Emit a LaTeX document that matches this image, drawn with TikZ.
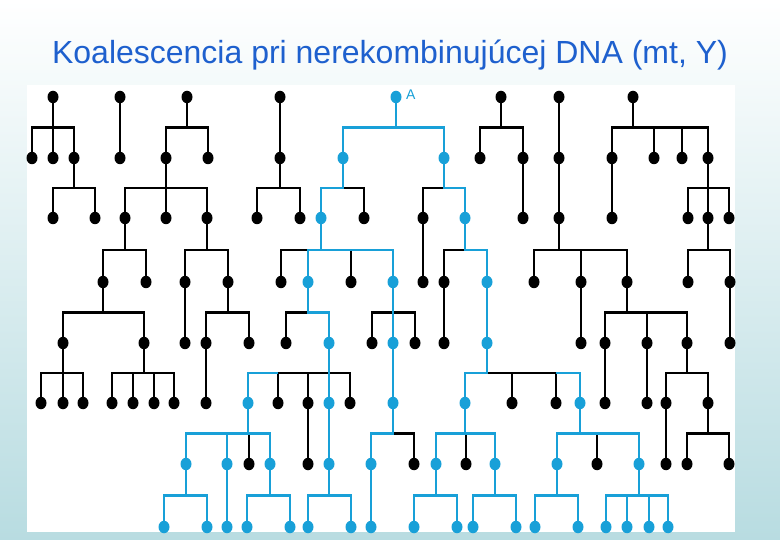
\documentclass[tikz,border=0pt]{standalone}
\usepackage{fontspec}
\setmainfont{Liberation Sans}
\usetikzlibrary{calc,shapes.geometric}
\definecolor{lineage}{RGB}{24,160,216}
\definecolor{titleblue}{RGB}{30,96,206}
\definecolor{slidemid}{RGB}{208,232,235}
\definecolor{slidebg}{RGB}{184,220,225}
\tikzset{
  dotk/.style={ellipse, fill=black, inner sep=0pt,
    minimum width=11pt, minimum height=12.5pt},
  dotb/.style={dotk, fill=lineage},
  edgek/.style={line width=2.4pt},
  edgeb/.style={edgek, draw=lineage},
}
\newcommand{\kids}[3][edgek]{%
  \foreach \k in {#3}
    \draw[#1] (#2.center) |- ($(#2)!.5!(\k)$) -| (\k.center);}

\begin{document}
\begin{tikzpicture}[x=1pt, y=-1pt]
  \useasboundingbox (0,0) rectangle (780,540);
  \shade[top color=white, middle color=slidemid, bottom color=slidebg]
    (0,0) rectangle (780,540);
  \fill[white] (27,85) rectangle (735,532);
  \node[text=titleblue, font=\fontsize{32}{36}\selectfont, anchor=base]
    (title) at (390,64) {Koalescencia pri nerekombinujúcej DNA (mt, Y)};

  % individuals, one row per generation
  \foreach \x in {53,120,187,280,501,559,633}
    \node[dotk] (a\x) at (\x,97) {};
  \node[dotb] (a396) at (396,97) {};
  \node[text=lineage, anchor=west, font=\fontsize{14}{14}\selectfont]
    (lblA) at ([xshift=1pt,yshift=2pt]a396.east) {A};
  \foreach \x in {32,53,74,120,166,208,280,480,523,559,612,654,682,708}
    \node[dotk] (b\x) at (\x,158) {};
  \foreach \x in {343,444}
    \node[dotb] (b\x) at (\x,158) {};
  \foreach \x in {53,95,125,166,207,257,300,364,423,523,559,612,688,708,729}
    \node[dotk] (c\x) at (\x,218) {};
  \foreach \x in {321,465}
    \node[dotb] (c\x) at (\x,218) {};
  \foreach \x in {103,146,185,228,281,351,423,444,534,581,627,688,730}
    \node[dotk] (d\x) at (\x,282) {};
  \foreach \x in {308,393,487}
    \node[dotb] (d\x) at (\x,282) {};
  \foreach \x in {63,144,185,206,249,286,372,415,444,581,605,647,687,730}
    \node[dotk] (e\x) at (\x,343) {};
  \foreach \x in {329,393,487}
    \node[dotb] (e\x) at (\x,343) {};
  \foreach \x in {41,63,83,112,133,154,174,206,278,308,350,512,556,605,647,666,708}
    \node[dotk] (f\x) at (\x,403) {};
  \foreach \x in {248,329,393,465,580}
    \node[dotb] (f\x) at (\x,403) {};
  \foreach \x in {249,308,414,466,597,666,687,729}
    \node[dotk] (g\x) at (\x,464) {};
  \foreach \x in {186,227,270,329,371,436,495,557,639}
    \node[dotb] (g\x) at (\x,464) {};
  \foreach \x in {164,207,227,247,290,308,351,371,414,457,473,516,535,578,606,627,649,668}
    \node[dotb] (h\x) at (\x,527) {};

  % descent
  \kids{a53}{b32,b53,b74}
  \kids{a120}{b120}
  \kids{a187}{b166,b208}
  \kids{a280}{b280}
  \kids{a501}{b480,b523}
  \kids{a559}{b559}
  \kids{a633}{b612,b654,b682,b708}
  \kids{b74}{c53,c95}
  \kids{b166}{c125,c166,c207}
  \kids{b280}{c257,c300}
  \kids{b343}{c364}
  \kids{b444}{c423}
  \kids{b523}{c523}
  \kids{b559}{c559}
  \kids{b612}{c612}
  \kids{b708}{c688,c708,c729}
  \kids{c125}{d103,d146}
  \kids{c207}{d185,d228}
  \kids{c321}{d281,d351}
  \kids{c423}{d423}
  \kids{c465}{d444}
  \kids{c559}{d534,d581,d627}
  \kids{c708}{d688,d730}
  \kids{d103}{e63,e144}
  \kids{d185}{e185}
  \kids{d228}{e206,e249}
  \kids{d308}{e286}
  \kids{d393}{e372,e415}
  \kids{d444}{e444}
  \kids{d581}{e581}
  \kids{d627}{e605,e647,e687}
  \kids{d730}{e730}
  \kids{e63}{f41,f63,f83}
  \kids{e144}{f112,f133,f154,f174}
  \kids{e206}{f206}
  \kids{e329}{f248,f278,f308,f350}
  \kids{e487}{f512,f556,f580}
  \kids{e605}{f605}
  \kids{e647}{f647}
  \kids{e687}{f666,f708}
  \kids{f248}{g249}
  \kids{f308}{g308}
  \kids{f393}{g414}
  \kids{f465}{g466}
  \kids{f580}{g597}
  \kids{f666}{g666}
  \kids{f708}{g687,g729}

  % the line back to A
  \kids[edgeb]{a396}{b343,b444}
  \kids[edgeb]{b343}{c321}
  \kids[edgeb]{b444}{c465}
  \kids[edgeb]{c321}{d308,d393}
  \kids[edgeb]{c465}{d487}
  \kids[edgeb]{d308}{e329}
  \kids[edgeb]{d393}{e393}
  \kids[edgeb]{d487}{e487}
  \kids[edgeb]{e329}{f329}
  \kids[edgeb]{e393}{f393}
  \kids[edgeb]{e487}{f465}
  \draw[edgeb] (f248.center) |- ([yshift=30pt]f278.center);
  \draw[edgeb] (f580.center) |- ([yshift=30pt]f556.center);
  \kids[edgeb]{f248}{g186,g227,g270}
  \kids[edgeb]{f329}{g329}
  \kids[edgeb]{f393}{g371}
  \kids[edgeb]{f465}{g436,g495}
  \kids[edgeb]{f580}{g557,g639}
  \kids[edgeb]{g186}{h164,h207}
  \kids[edgeb]{g227}{h227}
  \kids[edgeb]{g270}{h247,h290}
  \kids[edgeb]{g329}{h308,h351}
  \kids[edgeb]{g371}{h371}
  \kids[edgeb]{g436}{h414,h457}
  \kids[edgeb]{g495}{h473,h516}
  \kids[edgeb]{g557}{h535,h578}
  \kids[edgeb]{g639}{h606,h627,h649,h668}
\end{tikzpicture}
\end{document}
